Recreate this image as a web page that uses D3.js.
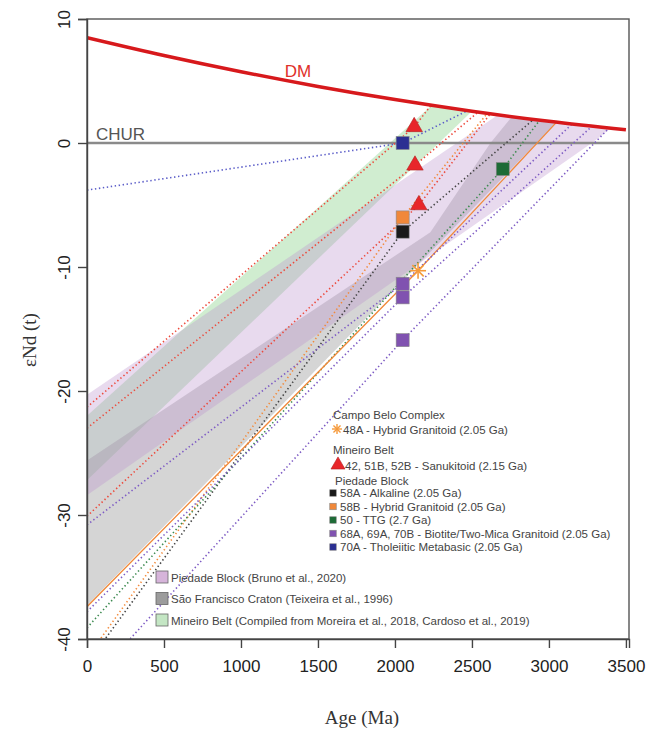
<!DOCTYPE html>
<html>
<head>
<meta charset="utf-8">
<script src="https://cdn.jsdelivr.net/npm/d3@7"></script>
<style>
body { margin: 0; background: #fff; }
svg { display: block; }
</style>
</head>
<body>
<svg id="chart" width="652" height="734" font-family="Liberation Sans, Arial, sans-serif"></svg>
<script>
// ---- data ----
var xTicks = [0, 500, 1000, 1500, 2000, 2500, 3000, 3500]
var yTicks = [10, 0, -10, -20, -30, -40]

// depleted mantle curve (age Ma, eNd)
var dmAge = [0, 500, 1000, 1500, 2000, 2500, 3000, 3500]
var dmEps = [8.5, 7.06, 5.75, 4.56, 3.5, 2.56, 1.75, 1.06]

// fields (age, eNd)
var mbBand = [[0, -22.0], [2230, 2.95], [2370, 2.75], [2500, 2.56], [0, -27.2]]
var sfcBand = [[0, -25.6], [2230, -7.2], [2620, 0], [2760, 2.12], [2900, 1.9], [3050, 1.68], [0, -37.3]]
var pbBand = [[0, -20.3], [2670, 2.27], [3000, 1.75], [3200, 1.46], [3400, 1.19], [3290, 0.1], [0, -28.4]]

// evolution lines: present day -> crystallisation -> model age
var evoGroup = ['red', 'red', 'red', 'orange', 'black', 'green', 'orangeSolid', 'purple', 'purple', 'purple', 'blue']
var evoPaths = [
    [[0, -21.3], [2125, 1.3], [2230, 2.97]],
    [[0, -23.0], [2130, -1.8], [2540, 2.49]],
    [[0, -30.1], [2155, -5.0], [2620, 2.36]],
    [[0, -41.5], [2050, -6.0], [2600, 2.39]],
    [[0, -42.0], [2050, -7.15], [2900, 1.9]],
    [[0, -39.1], [2700, -2.1], [2940, 1.84]],
    [[0, -37.4], [2150, -10.3], [3050, 1.68]],
    [[0, -30.8], [2050, -11.35], [3150, 1.53]],
    [[0, -37.8], [2050, -12.45], [3280, 1.35]],
    [[0, -43.8], [2050, -15.9], [3390, 1.2]],
    [[0, -3.8], [2050, 0], [2470, 2.6]]
]

// samples
var sampleAge = [2125, 2130, 2155, 2050, 2050, 2700, 2150, 2050, 2050, 2050, 2050]
var sampleEps = [1.3, -1.8, -5.0, -6.0, -7.15, -2.1, -10.3, -11.35, -12.45, -15.9, 0]
var sampleGroup = ['red', 'red', 'red', 'orange', 'black', 'green', 'orangeSolid', 'purple', 'purple', 'purple', 'blue']

var legendTitles = ['Campo Belo Complex', 'Mineiro Belt', 'Piedade Block']
var legendItems = ['48A - Hybrid Granitoid (2.05 Ga)', '42, 51B, 52B - Sanukitoid (2.15 Ga)',
    '58A - Alkaline (2.05 Ga)', '58B - Hybrid Granitoid (2.05 Ga)', '50 - TTG (2.7 Ga)',
    '68A, 69A, 70B - Biotite/Two-Mica Granitoid (2.05 Ga)', '70A - Tholeiitic Metabasic (2.05 Ga)']
var fieldNames = ['Piedade Block (Bruno et al., 2020)', 'São Francisco Craton (Teixeira et al., 1996)',
    'Mineiro Belt (Compiled from Moreira et al., 2018, Cardoso et al., 2019)']

// ---- styles ----
var lineColor = { red: '#ec4a3c', orange: '#f28a3a', black: '#444', green: '#3d8a50', orangeSolid: '#f0893a', purple: '#7e5cc4', blue: '#5a5cc8' }
var markColor = { red: '#e8262a', orange: '#f0883a', black: '#1a1a1a', green: '#1d6b36', orangeSolid: '#f59a3c', purple: '#8052b0', blue: '#2b2f92' }
var serif = 'Liberation Serif, Times New Roman, serif'

var svg = d3.select('#chart')
var pLeft = 87, pRight = 629, pTop = 19, pBottom = 639
var x = d3.scaleLinear().domain([0, 3520]).range([pLeft, pRight])
var y = d3.scaleLinear().domain([-40, 10]).range([pBottom, pTop])

svg.append('clipPath').attr('id', 'plotClip')
    .append('rect').attr('x', pLeft).attr('y', pTop).attr('width', pRight - pLeft).attr('height', pBottom - pTop)
var plot = svg.append('g').attr('clip-path', 'url(#plotClip)')

var area = d3.line().x(d => x(d[0])).y(d => y(d[1]))

plot.append('path').datum(mbBand).attr('d', d => area(d) + 'Z').attr('fill', 'rgb(150,215,150)').attr('fill-opacity', 0.45)
plot.append('path').datum(sfcBand).attr('d', d => area(d) + 'Z').attr('fill', 'rgb(150,150,150)').attr('fill-opacity', 0.4)
plot.append('path').datum(pbBand).attr('d', d => area(d) + 'Z').attr('fill', 'rgb(190,150,205)').attr('fill-opacity', 0.35)

// CHUR
plot.append('line').attr('x1', x(0)).attr('x2', x(3520)).attr('y1', y(0)).attr('y2', y(0))
    .attr('stroke', '#8a8a8a').attr('stroke-width', 2.5)

// evolution lines
evoPaths.forEach(function (p, i) {
    var g = evoGroup[i]
    plot.append('path').datum(p).attr('d', area)
        .attr('fill', 'none').attr('stroke', lineColor[g])
        .attr('stroke-width', g == 'orangeSolid' ? 1.3 : 1.6)
        .attr('stroke-dasharray', g == 'orangeSolid' ? null : '1.4,2.6')
})

// DM curve
var dmData = dmAge.map((a, i) => [a, dmEps[i]])
plot.append('path').datum(dmData)
    .attr('d', d3.line().x(d => x(d[0])).y(d => y(d[1])).curve(d3.curveMonotoneX))
    .attr('fill', 'none').attr('stroke', '#d7191c').attr('stroke-width', 3.5)

svg.append('text').attr('x', 298).attr('y', 77).attr('text-anchor', 'middle')
    .attr('font-size', 17).attr('fill', '#e0302a').text('DM')
svg.append('text').attr('x', 96).attr('y', 140)
    .attr('font-size', 17).attr('fill', '#555').text('CHUR')

// sample markers
var g2 = svg.append('g')
function drawMark (g, cx, cy, big) {
    if (g == 'red') {
        g2.append('path').attr('d', d3.symbol(d3.symbolTriangle, big ? 118 : 85)())
            .attr('transform', `translate(${cx},${cy})`)
            .attr('fill', markColor.red).attr('stroke', '#b02020').attr('stroke-width', 0.6)
    } else if (g == 'orangeSolid') {
        var r = big ? 8 : 5
        for (var k = 0; k < 4; k++) {
            var ang = k * Math.PI / 4
            g2.append('line')
                .attr('x1', cx - r * Math.cos(ang)).attr('y1', cy - r * Math.sin(ang))
                .attr('x2', cx + r * Math.cos(ang)).attr('y2', cy + r * Math.sin(ang))
                .attr('stroke', markColor.orangeSolid).attr('stroke-width', big ? 1.6 : 1.4)
        }
    } else {
        var w = big ? 13 : 6.5
        g2.append('rect').attr('x', cx - w / 2).attr('y', cy - w / 2).attr('width', w).attr('height', w)
            .attr('fill', markColor[g]).attr('stroke', '#888').attr('stroke-width', 0.6)
    }
}
sampleAge.forEach(function (a, i) {
    drawMark(sampleGroup[i], x(a), y(sampleEps[i]), true)
})

// axes frame
svg.append('rect').attr('x', pLeft).attr('y', pTop).attr('width', pRight - pLeft).attr('height', pBottom - pTop)
    .attr('fill', 'none').attr('stroke', '#555').attr('stroke-width', 1.4)

var xAxis = svg.append('g').attr('transform', `translate(0,${pBottom})`)
    .call(d3.axisBottom(x).tickValues(xTicks).tickSize(9).tickPadding(12).tickFormat(d => String(d)))
xAxis.select('.domain').attr('stroke', '#444').attr('stroke-width', 1.4)
xAxis.selectAll('line').attr('stroke', '#444').attr('stroke-width', 1.4)
xAxis.selectAll('text').attr('font-size', 17).attr('fill', '#222')
    .attr('font-family', 'Liberation Sans, Arial, sans-serif')

var yAxis = svg.append('g').attr('transform', `translate(${pLeft},0)`)
    .call(d3.axisLeft(y).tickValues(yTicks).tickSize(9).tickFormat(d => String(d)))
yAxis.select('.domain').attr('stroke', '#444').attr('stroke-width', 1.4)
yAxis.selectAll('line').attr('stroke', '#444').attr('stroke-width', 1.4)
yAxis.selectAll('text').attr('font-size', 17).attr('fill', '#222')
    .attr('font-family', 'Liberation Sans, Arial, sans-serif')
    .attr('text-anchor', 'middle').attr('x', 0).attr('dy', 0)
    .attr('transform', 'translate(-17,0) rotate(-90)')

svg.append('text').attr('transform', 'translate(36,340) rotate(-90)').attr('text-anchor', 'middle')
    .attr('font-family', serif).attr('font-size', 19).attr('fill', '#333')
    .text('εNd (t)')
svg.append('text').attr('x', 362).attr('y', 724).attr('text-anchor', 'middle')
    .attr('font-family', serif).attr('font-size', 19).attr('fill', '#333')
    .text('Age (Ma)')

// sample legend
var lg = svg.append('g').attr('font-size', 11.5).attr('fill', '#444')
lg.append('text').attr('x', 333).attr('y', 419).text(legendTitles[0])
drawMark('orangeSolid', 337, 429, false)
lg.append('text').attr('x', 343).attr('y', 434).text(legendItems[0])
lg.append('text').attr('x', 333).attr('y', 454).text(legendTitles[1])
drawMark('red', 338, 465, false)
lg.append('text').attr('x', 345).attr('y', 470).text(legendItems[1])
lg.append('text').attr('x', 335).attr('y', 485).text(legendTitles[2])
var sqGroups = ['black', 'orange', 'green', 'purple', 'blue']
sqGroups.forEach(function (g, i) {
    var yy = 493 + i * 13.5
    drawMark(g, 333, yy, false)
    lg.append('text').attr('x', 340).attr('y', yy + 4).text(legendItems[i + 2])
})

// field legend
var fieldFill = ['#d6b4da', '#9c9c9c', '#c4e6c4']
fieldNames.forEach(function (n, i) {
    var yy = 577 + i * 21.5
    svg.append('rect').attr('x', 156).attr('y', yy - 6).attr('width', 12).attr('height', 12)
        .attr('fill', fieldFill[i]).attr('stroke', '#666').attr('stroke-width', 0.8)
    svg.append('text').attr('x', 171).attr('y', yy + 4.5).attr('font-size', 11.5).attr('fill', '#444').text(n)
})
</script>
</body>
</html>
